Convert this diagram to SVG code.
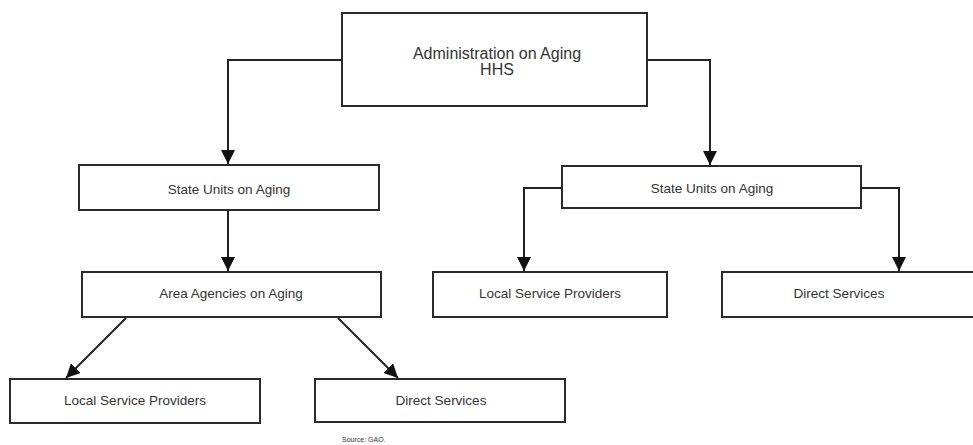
<svg xmlns="http://www.w3.org/2000/svg" width="973" height="445" viewBox="0 0 973 445">
<style>
.box{fill:#fff;stroke:#2a2a2a;stroke-width:2}
.lbl{font-family:"Liberation Sans",Arial,sans-serif;font-size:13.5px;fill:#333;text-anchor:middle}
.big{font-size:16px}
.con{fill:none;stroke:#222;stroke-width:2;marker-end:url(#ah)}
.src{font-family:"Liberation Sans",Arial,sans-serif;font-size:7px;fill:#333}
</style>
<defs>
<marker id="ah" markerUnits="userSpaceOnUse" markerWidth="14" markerHeight="14" refX="14" refY="7" orient="auto" viewBox="0 0 14 14">
<path d="M0,0 L14,7 L0,14 z" fill="#111"/>
</marker>
</defs>
<rect width="973" height="445" fill="#fff"/>
<g id="connectors">
<path class="con" d="M342,60 H228 V164"/>
<path class="con" d="M647,60 H710 V165"/>
<path class="con" d="M228,210 V271"/>
<path class="con" d="M562,188 H524 V271"/>
<path class="con" d="M861,188 H899 V271"/>
<path class="con" d="M126,318 L66,378"/>
<path class="con" d="M338,318 L398,378"/>
</g>
<g id="aoa">
<rect class="box" x="342" y="13" width="305" height="93"/>
<text class="lbl big" x="497" y="59">Administration on Aging</text>
<text class="lbl big" x="497" y="75">HHS</text>
</g>
<g id="su-left">
<rect class="box" x="79" y="165" width="300" height="45"/>
<text class="lbl" x="229" y="194">State Units on Aging</text>
</g>
<g id="su-right">
<rect class="box" x="562" y="166" width="299" height="42"/>
<text class="lbl" x="712" y="193">State Units on Aging</text>
</g>
<g id="aaa">
<rect class="box" x="82" y="272" width="299" height="45"/>
<text class="lbl" x="231" y="298">Area Agencies on Aging</text>
</g>
<g id="lsp-right">
<rect class="box" x="433" y="272" width="234" height="45"/>
<text class="lbl" x="550" y="298">Local Service Providers</text>
</g>
<g id="ds-right">
<rect class="box" x="722" y="272" width="270" height="45"/>
<text class="lbl" x="839" y="298">Direct Services</text>
</g>
<g id="lsp-bottom">
<rect class="box" x="10" y="379" width="250" height="44"/>
<text class="lbl" x="135" y="405">Local Service Providers</text>
</g>
<g id="ds-bottom">
<rect class="box" x="315" y="379" width="250" height="43"/>
<text class="lbl" x="441" y="405">Direct Services</text>
</g>
<text class="src" x="342" y="442">Source: GAO.</text>
</svg>
